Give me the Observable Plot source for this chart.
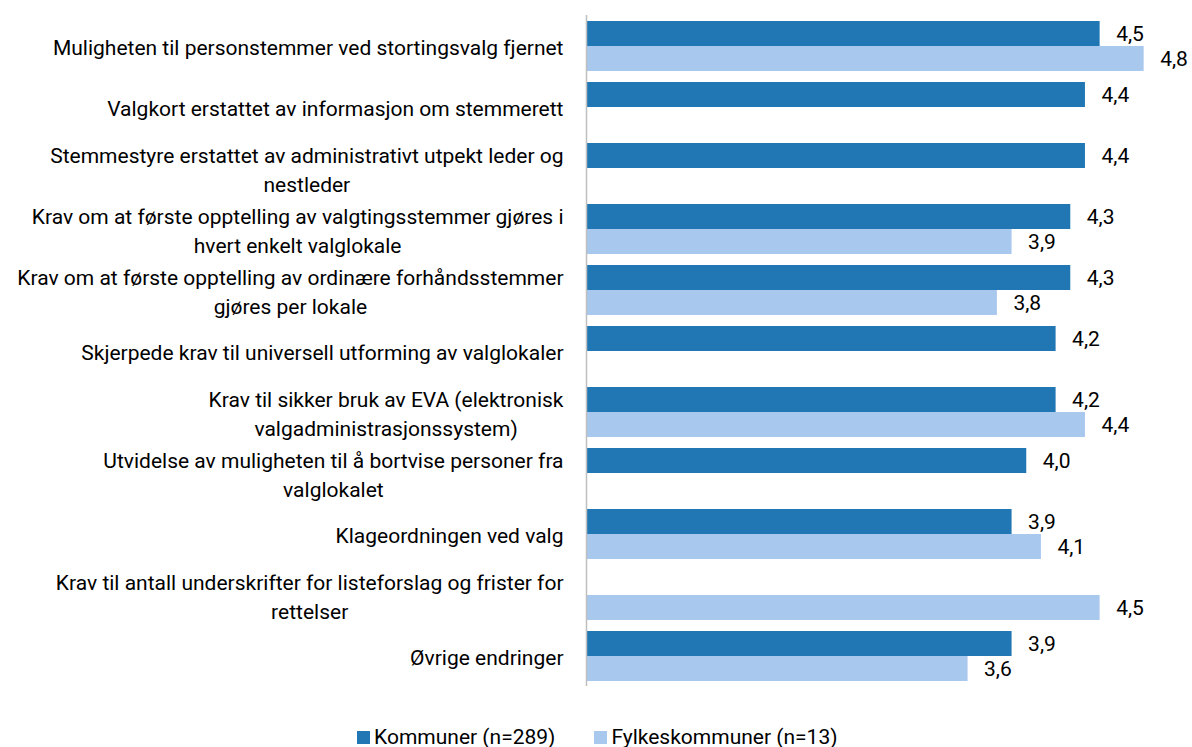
<!DOCTYPE html>
<html>
<head>
<meta charset="utf-8">
<script src="https://cdn.jsdelivr.net/npm/d3@7"></script>
<script src="https://cdn.jsdelivr.net/npm/@observablehq/plot@0.6"></script>
<style>
  body { margin: 0; background: #fff; font-family: Roboto, sans-serif; }
  #legend { position: absolute; top: 725px; left: 357px; display: flex; align-items: center; font-size: 21px; line-height: 24px; color: #000; }
  .item { display: flex; align-items: center; }
  .sw { width: 13px; height: 13px; margin-right: 4px; }
</style>
</head>
<body>
<div id="chart"></div>
<div id="legend"></div>
<script>
const categories = [
  "Muligheten til personstemmer ved stortingsvalg fjernet",
  "Valgkort erstattet av informasjon om stemmerett",
  "Stemmestyre erstattet av administrativt utpekt leder og\nnestleder",
  "Krav om at første opptelling av valgtingsstemmer gjøres i\nhvert enkelt valglokale",
  "Krav om at første opptelling av ordinære forhåndsstemmer\ngjøres per lokale",
  "Skjerpede krav til universell utforming av valglokaler",
  "Krav til sikker bruk av EVA (elektronisk\nvalgadministrasjonssystem)",
  "Utvidelse av muligheten til å bortvise personer fra\nvalglokalet",
  "Klageordningen ved valg",
  "Krav til antall underskrifter for listeforslag og frister for\nrettelser",
  "Øvrige endringer"
];
const kommuner = [4.5, 4.4, 4.4, 4.3, 4.3, 4.2, 4.2, 4.0, 3.9, null, 3.9];
const fylkeskommuner = [4.8, null, null, 3.9, 3.8, null, 4.4, null, 4.1, 4.5, 3.6];
const seriesNames = ["Kommuner (n=289)", "Fylkeskommuner (n=13)"];
const seriesColors = ["#2077B4", "#A9C8EE"];

const rows = categories.flatMap((c, i) => [
  {cat: c, series: seriesNames[0], value: kommuner[i]},
  {cat: c, series: seriesNames[1], value: fylkeskommuner[i]}
]).filter(d => d.value != null);

const FS = 21;
const ctx = document.createElement("canvas").getContext("2d");
ctx.font = `${FS}px Roboto`;
function blockWidth(s) { return Math.max(...s.split("\n").map(l => ctx.measureText(l).width)); }

const labelMarks = categories.map(c => Plot.text([c], {
  fy: d => d, text: d => d, frameAnchor: "left", textAnchor: "middle",
  dx: -(23 + blockWidth(c) / 2), lineHeight: 1.38, fill: "#000", fontSize: FS
}));

const chart = Plot.plot({
  width: 1192, height: 700,
  marginLeft: 586, marginRight: 19, marginTop: 14, marginBottom: 14,
  style: {fontFamily: "Roboto, sans-serif", fontSize: `${FS}px`, color: "#000", background: "#fff"},
  x: {domain: [1, 5], axis: null},
  fy: {domain: categories, axis: null, padding: 0},
  y: {domain: seriesNames, axis: null, paddingInner: 0, paddingOuter: 0.22},
  color: {domain: seriesNames, range: seriesColors},
  marks: [
    Plot.barX(rows, {fy: "cat", y: "series", x1: 1, x2: "value", fill: "series"}),
    Plot.text(rows, {fy: "cat", y: "series", x: "value",
      text: d => d.value.toFixed(1).replace(".", ","),
      textAnchor: "start", dx: 16, fill: "#000", fontSize: FS}),
    Plot.ruleX([1], {stroke: "#BFBFBF", strokeWidth: 1.5}),
    ...labelMarks
  ]
});
document.getElementById("chart").appendChild(chart);

const legend = document.getElementById("legend");
seriesNames.forEach((s, i) => {
  const it = document.createElement("div");
  it.className = "item";
  if (i > 0) it.style.marginLeft = "39px";
  it.innerHTML = `<span class="sw" style="background:${seriesColors[i]}"></span><span>${s}</span>`;
  legend.appendChild(it);
});
</script>
</body>
</html>
